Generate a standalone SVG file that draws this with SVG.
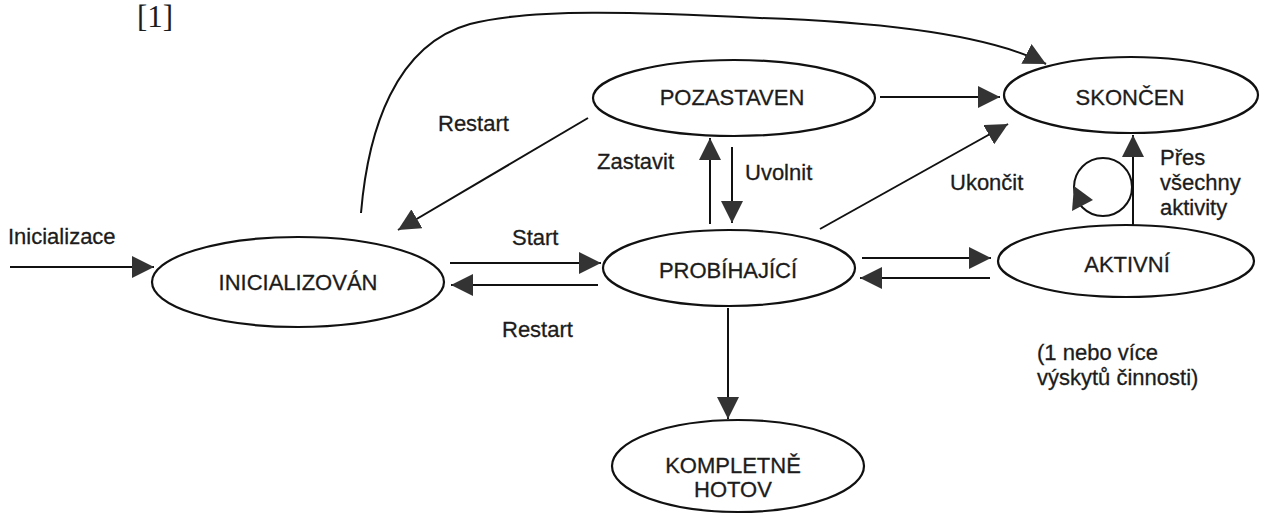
<svg xmlns="http://www.w3.org/2000/svg" width="1264" height="520" viewBox="0 0 1264 520">
  <style>
    .node ellipse { fill: #ffffff; stroke: #111111; stroke-width: 2.2; }
    .node text { font-family: "Liberation Sans", Arial, sans-serif; font-size: 22px; fill: #1c1c1c; stroke: #1c1c1c; stroke-width: 0.3; text-anchor: middle; }
    .edge { fill: none; stroke: #111111; stroke-width: 2; }
    .lbl { font-family: "Liberation Sans", Arial, sans-serif; font-size: 22px; fill: #1c1c1c; stroke: #1c1c1c; stroke-width: 0.3; }
    .ref { font-family: "Liberation Serif", "Times New Roman", serif; font-size: 31px; fill: #1c1c1c; }
  </style>
  <defs>
    <marker id="arrow" markerUnits="userSpaceOnUse" markerWidth="24" markerHeight="22" refX="22" refY="11" orient="auto">
      <path d="M0,0 L22,11 L0,22 Z" fill="#333333"/>
    </marker>
  </defs>

  <rect width="1264" height="520" fill="#ffffff"/>

  <text class="ref" x="137" y="27">[1]</text>

  <!-- transitions -->
  <g id="connectors">
    <!-- Inicializace -> INICIALIZOVÁN -->
    <line class="edge" x1="10" y1="267" x2="154" y2="267" marker-end="url(#arrow)"/>
    <!-- INICIALIZOVÁN -> SKONČEN (long arc over the top) -->
    <path class="edge" d="M361,213 C368,130 395,45 470,24 C530,8 640,12 760,18 C880,22 990,35 1046,64" marker-end="url(#arrow)"/>
    <!-- Start / Restart between INICIALIZOVÁN and PROBÍHAJÍCÍ -->
    <line class="edge" x1="450" y1="263" x2="601" y2="263" marker-end="url(#arrow)"/>
    <line class="edge" x1="598" y1="285" x2="451" y2="285" marker-end="url(#arrow)"/>
    <!-- POZASTAVEN -> INICIALIZOVÁN (Restart) -->
    <line class="edge" x1="588" y1="118" x2="398" y2="230" marker-end="url(#arrow)"/>
    <!-- Zastavit / Uvolnit -->
    <line class="edge" x1="710" y1="224" x2="710" y2="138" marker-end="url(#arrow)"/>
    <line class="edge" x1="732" y1="147" x2="732" y2="223" marker-end="url(#arrow)"/>
    <!-- POZASTAVEN -> SKONČEN -->
    <line class="edge" x1="880" y1="97" x2="1000" y2="97" marker-end="url(#arrow)"/>
    <!-- PROBÍHAJÍCÍ -> SKONČEN (Ukončit) -->
    <line class="edge" x1="820" y1="229" x2="1008" y2="124" marker-end="url(#arrow)"/>
    <!-- PROBÍHAJÍCÍ <-> AKTIVNÍ -->
    <line class="edge" x1="862" y1="258" x2="991" y2="258" marker-end="url(#arrow)"/>
    <line class="edge" x1="990" y1="278" x2="860" y2="278" marker-end="url(#arrow)"/>
    <!-- PROBÍHAJÍCÍ -> KOMPLETNĚ HOTOV -->
    <line class="edge" x1="728" y1="308" x2="728" y2="419" marker-end="url(#arrow)"/>
    <!-- AKTIVNÍ -> SKONČEN (Přes všechny aktivity) -->
    <line class="edge" x1="1133" y1="226" x2="1133" y2="135" marker-end="url(#arrow)"/>
    <!-- AKTIVNÍ self loop -->
    <circle class="edge" cx="1103" cy="187" r="29"/>
    <path d="M1074,186 L1093,200 L1072,211 Z" fill="#333333"/>
  </g>

  <!-- transition labels -->
  <g id="labels">
    <text class="lbl" x="8" y="244">Inicializace</text>
    <text class="lbl" x="512" y="245">Start</text>
    <text class="lbl" x="502" y="337">Restart</text>
    <text class="lbl" x="438" y="131">Restart</text>
    <text class="lbl" x="597" y="169">Zastavit</text>
    <text class="lbl" x="745" y="180">Uvolnit</text>
    <text class="lbl" x="950" y="190">Ukončit</text>
    <text class="lbl" x="1160" y="165">Přes</text>
    <text class="lbl" x="1160" y="190">všechny</text>
    <text class="lbl" x="1160" y="215">aktivity</text>
    <text class="lbl" x="1037" y="360">(1 nebo více</text>
    <text class="lbl" x="1037" y="385">výskytů činnosti)</text>
  </g>

  <!-- states -->
  <g id="inicializovan" class="node">
    <ellipse cx="298" cy="282" rx="146" ry="45"/>
    <text x="298" y="290">INICIALIZOVÁN</text>
  </g>
  <g id="pozastaven" class="node">
    <ellipse cx="734" cy="98" rx="141" ry="38"/>
    <text x="732" y="105">POZASTAVEN</text>
  </g>
  <g id="skoncen" class="node">
    <ellipse cx="1131" cy="95" rx="127" ry="38"/>
    <text x="1130" y="105">SKONČEN</text>
  </g>
  <g id="probihajici" class="node">
    <ellipse cx="729" cy="268" rx="126" ry="38"/>
    <text x="728" y="278">PROBÍHAJÍCÍ</text>
  </g>
  <g id="aktivni" class="node">
    <ellipse cx="1126" cy="261" rx="128" ry="36"/>
    <text x="1127" y="272">AKTIVNÍ</text>
  </g>
  <g id="kompletne-hotov" class="node">
    <ellipse cx="738" cy="466" rx="126" ry="46"/>
    <text x="733" y="473">KOMPLETNĚ</text>
    <text x="733" y="497">HOTOV</text>
  </g>
</svg>
